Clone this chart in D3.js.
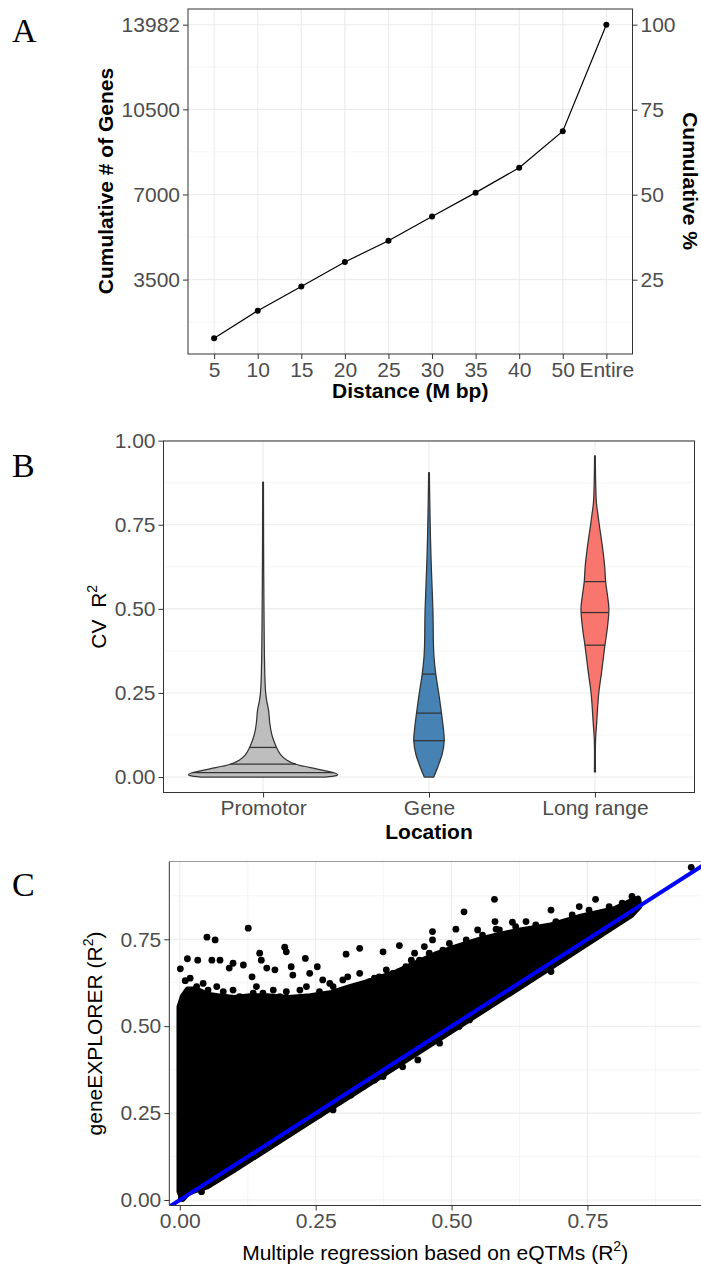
<!DOCTYPE html>
<html><head><meta charset="utf-8">
<script src="https://cdn.jsdelivr.net/npm/d3@7/dist/d3.min.js"></script>
<style>body{margin:0;background:#fff} svg{display:block} text{white-space:pre}</style>
</head><body>
<svg id="c" width="701" height="1266"></svg>
<script>
// ---------- Panel A data ----------
const distCats = ["5","10","15","20","25","30","35","40","50","Entire"];
const cumGenes = [1085, 2219, 3214, 4225, 5098, 6093, 7075, 8099, 9602, 13982];
const geneTicks = [3500, 7000, 10500, 13982];
const pctTicks = [25, 50, 75, 100];
const totalGenes = 13982;

// ---------- Panel B data ----------
const locations = ["Promotor", "Gene", "Long range"];
const violinColors = ["#BEBEBE", "#4682B4", "#F8766D"];
const cvTicks = [0, 0.25, 0.5, 0.75, 1.0];
const cvTickLabels = ["0.00", "0.25", "0.50", "0.75", "1.00"];
// relative density profiles: [CV R2, density]
const promotorDensity = [[0.000,0.83],[0.004,0.98],[0.007,1.00],[0.012,0.96],[0.018,0.84],[0.025,0.70],[0.032,0.55],[0.038,0.44],[0.050,0.32],[0.065,0.24],[0.088,0.18],[0.110,0.14],[0.128,0.115],[0.160,0.09],[0.198,0.074],[0.225,0.05],[0.248,0.036],[0.280,0.027],[0.308,0.023],[0.350,0.019],[0.400,0.016],[0.500,0.012],[0.600,0.009],[0.700,0.007],[0.800,0.006],[0.877,0.005]];
const geneDensity = [[0.000,0.063],[0.030,0.118],[0.070,0.178],[0.108,0.204],[0.149,0.190],[0.190,0.167],[0.248,0.131],[0.306,0.091],[0.357,0.067],[0.407,0.058],[0.450,0.056],[0.500,0.052],[0.560,0.042],[0.625,0.031],[0.700,0.021],[0.750,0.016],[0.800,0.012],[0.850,0.008],[0.905,0.005]];
const longRangeDensity = [[0.015,0.007],[0.109,0.008],[0.160,0.023],[0.249,0.051],[0.308,0.087],[0.392,0.134],[0.427,0.157],[0.460,0.175],[0.500,0.187],[0.540,0.168],[0.581,0.143],[0.625,0.131],[0.685,0.100],[0.750,0.058],[0.780,0.040],[0.815,0.020],[0.864,0.011],[0.955,0.005]];
const promotorQuantiles = [0.013, 0.038, 0.088];
const geneQuantiles = [0.108, 0.190, 0.306];
const longRangeQuantiles = [0.392, 0.489, 0.581];

// ---------- Panel C data ----------
const r2Ticks = [0, 0.25, 0.5, 0.75];
const r2TickLabels = ["0.00", "0.25", "0.50", "0.75"];
// outline of the dense (saturated) point cloud: [eQTM R2, geneEXPLORER R2]
const cloudOutline = [[0.000,0.025],[0.000,0.555],[0.006,0.585],[0.015,0.605],[0.030,0.605],[0.050,0.590],[0.070,0.585],[0.100,0.580],[0.130,0.585],[0.160,0.585],[0.200,0.580],[0.240,0.585],[0.280,0.595],[0.310,0.610],[0.350,0.628],[0.400,0.655],[0.435,0.680],[0.470,0.705],[0.500,0.722],[0.557,0.750],[0.618,0.772],[0.680,0.788],[0.740,0.815],[0.800,0.836],[0.830,0.858],[0.843,0.866],[0.845,0.845],[0.830,0.820],[0.800,0.790],[0.700,0.688],[0.600,0.588],[0.500,0.488],[0.400,0.388],[0.300,0.288],[0.200,0.188],[0.100,0.088],[0.050,0.040],[0.030,0.030],[0.015,0.022],[0.005,0.004]];
// sparse points outside / on the edge of the dense cloud
const sparseX = [0.001,0.014,0.033,0.050,0.065,0.059,0.074,0.091,0.126,0.098,0.117,0.133,0.147,0.150,0.160,0.175,0.193,0.196,0.205,0.208,0.231,0.239,0.253,0.263,0.276,0.306,0.579,0.523,0.465,0.508,0.331,0.374,0.404,0.331,0.765,0.683,0.735,0.580,0.612,0.637,0.548,0.582,0.465,0.450,0.432,0.426,0.380,0.404,0.358,0.941,
  0.010,0.019,0.031,0.043,0.052,0.068,0.080,0.098,0.110,0.135,0.141,0.153,0.172,0.184,0.196,0.221,0.233,0.257,0.282,0.300,0.309,0.325,0.349,0.367,0.392,0.416,0.441,0.459,0.484,0.496,0.527,0.557,0.588,0.618,0.655,0.692,0.722,0.753,0.790,0.814,0.832,
  0.315,0.337,0.358,0.374,0.410,0.438,0.713,0.683,0.514,0.533,0.478,0.003,0.040,0.071,0.135,0.166,0.257,0.282];
const sparseY = [0.665,0.694,0.690,0.756,0.748,0.690,0.690,0.667,0.782,0.681,0.676,0.642,0.710,0.690,0.667,0.662,0.727,0.714,0.671,0.647,0.695,0.652,0.671,0.633,0.623,0.707,0.865,0.829,0.772,0.779,0.724,0.714,0.732,0.652,0.865,0.834,0.844,0.801,0.799,0.801,0.777,0.779,0.748,0.729,0.710,0.690,0.662,0.657,0.638,0.957,
  0.631,0.638,0.614,0.623,0.604,0.614,0.599,0.604,0.585,0.595,0.614,0.595,0.604,0.585,0.599,0.604,0.614,0.599,0.614,0.633,0.642,0.614,0.628,0.642,0.652,0.671,0.690,0.710,0.719,0.738,0.748,0.762,0.777,0.786,0.791,0.801,0.820,0.834,0.844,0.854,0.873,
  0.302,0.326,0.345,0.355,0.383,0.403,0.705,0.657,0.499,0.518,0.451,0.005,0.024,0.062,0.125,0.155,0.245,0.259];

// ---------- drawing ----------
const svg = d3.select("#c");
const SANS = "'Liberation Sans', Arial, Helvetica, sans-serif";
const SERIF = "'Liberation Serif', 'Times New Roman', serif";
const TICK_COL = "#4D4D4D", GRID = "#EBEBEB", GRID_MINOR = "#F3F3F3", BORDER = "#333333";
const FS = 21;

function label(txt, x, y) {
  svg.append("text").attr("x", x).attr("y", y).attr("font-family", SERIF)
    .attr("font-size", 34).attr("fill", "#000").text(txt);
}
function midpoints(arr) {
  const m = [];
  for (let i = 0; i < arr.length - 1; i++) m.push((arr[i] + arr[i + 1]) / 2);
  return m;
}

// ===== Panel A =====
const A = {l: 188, r: 632.5, t: 9, b: 354};
const gA = svg.append("g");
const minA = d3.min(cumGenes), maxA = d3.max(cumGenes), RA = maxA - minA;
const xA = d3.scalePoint().domain(distCats).range([A.l, A.r]).padding(0.6);
const yA = d3.scaleLinear().domain([minA - 0.05 * RA, maxA + 0.05 * RA]).range([A.b, A.t]);
const minorA = [geneTicks[0] - (geneTicks[1] - geneTicks[0]) / 2].concat(midpoints(geneTicks));
gA.selectAll(".mny").data(minorA).join("line").attr("x1", A.l).attr("x2", A.r)
  .attr("y1", d => yA(d)).attr("y2", d => yA(d)).attr("stroke", GRID_MINOR).attr("stroke-width", 0.8);
gA.selectAll(".mjy").data(geneTicks).join("line").attr("x1", A.l).attr("x2", A.r)
  .attr("y1", d => yA(d)).attr("y2", d => yA(d)).attr("stroke", GRID).attr("stroke-width", 1.1);
gA.selectAll(".mjx").data(distCats).join("line").attr("y1", A.t).attr("y2", A.b)
  .attr("x1", d => xA(d)).attr("x2", d => xA(d)).attr("stroke", GRID).attr("stroke-width", 1.1);
const lineA = d3.line().x((d, i) => xA(distCats[i])).y(d => yA(d));
gA.append("path").datum(cumGenes).attr("d", lineA).attr("fill", "none").attr("stroke", "#000").attr("stroke-width", 1.2);
gA.selectAll(".pt").data(cumGenes).join("circle").attr("cx", (d, i) => xA(distCats[i]))
  .attr("cy", d => yA(d)).attr("r", 3).attr("fill", "#000");
gA.append("rect").attr("x", A.l).attr("y", A.t).attr("width", A.r - A.l).attr("height", A.b - A.t)
  .attr("fill", "none").attr("stroke", BORDER).attr("stroke-width", 1);
// axes
const axAL = gA.append("g").attr("transform", `translate(${A.l},0)`)
  .call(d3.axisLeft(yA).tickValues(geneTicks).tickFormat(d3.format("d")).tickSize(5).tickPadding(3));
const axAR = gA.append("g").attr("transform", `translate(${A.r},0)`)
  .call(d3.axisRight(d3.scaleLinear().domain(yA.domain().map(v => v / totalGenes * 100)).range(yA.range()))
    .tickValues(pctTicks).tickSize(5).tickPadding(3));
const axAB = gA.append("g").attr("transform", `translate(0,${A.b})`)
  .call(d3.axisBottom(xA).tickSize(5).tickPadding(3));
[axAL, axAR, axAB].forEach(ax => {
  ax.select(".domain").remove();
  ax.selectAll(".tick line").attr("stroke", BORDER);
  ax.selectAll(".tick text").attr("font-family", SANS).attr("font-size", FS).attr("fill", TICK_COL);
});
axAB.selectAll(".tick text").attr("dy", "0.71em");
svg.append("text").attr("transform", `translate(113,181) rotate(-90)`).attr("text-anchor", "middle")
  .attr("font-family", SANS).attr("font-weight", "bold").attr("font-size", FS).text("Cumulative # of Genes");
svg.append("text").attr("transform", `translate(683,181) rotate(90)`).attr("text-anchor", "middle")
  .attr("font-family", SANS).attr("font-weight", "bold").attr("font-size", FS).text("Cumulative %");
svg.append("text").attr("x", (A.l + A.r) / 2).attr("y", 398).attr("text-anchor", "middle")
  .attr("font-family", SANS).attr("font-weight", "bold").attr("font-size", FS).text("Distance (M bp)");
label("A", 12, 42);

// ===== Panel B =====
const B = {l: 163.5, r: 694.5, t: 441, b: 792.5};
const gB = svg.append("g");
const xB = d3.scalePoint().domain(locations).range([B.l, B.r]).padding(0.6);
const yB = d3.scaleLinear().domain([-0.046, 0.999]).range([B.b, B.t]);
const wB = d3.scaleLinear().domain([0, 1]).range([0, 0.45 * xB.step()]);
gB.selectAll(".mny").data(midpoints(cvTicks)).join("line").attr("x1", B.l).attr("x2", B.r)
  .attr("y1", d => yB(d)).attr("y2", d => yB(d)).attr("stroke", GRID_MINOR).attr("stroke-width", 0.8);
gB.selectAll(".mjy").data(cvTicks).join("line").attr("x1", B.l).attr("x2", B.r)
  .attr("y1", d => yB(d)).attr("y2", d => yB(d)).attr("stroke", GRID).attr("stroke-width", 1.1);
gB.selectAll(".mjx").data(locations).join("line").attr("y1", B.t).attr("y2", B.b)
  .attr("x1", d => xB(d)).attr("x2", d => xB(d)).attr("stroke", GRID).attr("stroke-width", 1.1);
const densities = [promotorDensity, geneDensity, longRangeDensity];
const quantiles = [promotorQuantiles, geneQuantiles, longRangeQuantiles];
function densAt(prof, v) {
  for (let i = 0; i < prof.length - 1; i++) {
    if (v >= prof[i][0] && v <= prof[i + 1][0]) {
      const t = (v - prof[i][0]) / (prof[i + 1][0] - prof[i][0]);
      return prof[i][1] + t * (prof[i + 1][1] - prof[i][1]);
    }
  }
  return 0;
}
locations.forEach((loc, k) => {
  const cx = xB(loc);
  const area = d3.area().curve(d3.curveCatmullRom.alpha(0.5))
    .y(d => yB(d[0])).x0(d => cx - wB(d[1])).x1(d => cx + wB(d[1]));
  gB.append("path").datum(densities[k]).attr("d", area).attr("fill", violinColors[k])
    .attr("stroke", "#333333").attr("stroke-width", 1.25).attr("stroke-linejoin", "round");
  gB.selectAll(".q" + k).data(quantiles[k]).join("line")
    .attr("x1", d => cx - wB(densAt(densities[k], d))).attr("x2", d => cx + wB(densAt(densities[k], d)))
    .attr("y1", d => yB(d)).attr("y2", d => yB(d)).attr("stroke", "#333333").attr("stroke-width", 1.25);
});
gB.append("rect").attr("x", B.l).attr("y", B.t).attr("width", B.r - B.l).attr("height", B.b - B.t)
  .attr("fill", "none").attr("stroke", BORDER).attr("stroke-width", 1);
const axBL = gB.append("g").attr("transform", `translate(${B.l},0)`)
  .call(d3.axisLeft(yB).tickValues(cvTicks).tickFormat((d, i) => cvTickLabels[i]).tickSize(5).tickPadding(3));
const axBB = gB.append("g").attr("transform", `translate(0,${B.b})`)
  .call(d3.axisBottom(xB).tickSize(5).tickPadding(3));
[axBL, axBB].forEach(ax => {
  ax.select(".domain").remove();
  ax.selectAll(".tick line").attr("stroke", BORDER);
  ax.selectAll(".tick text").attr("font-family", SANS).attr("font-size", FS).attr("fill", TICK_COL);
});
axBB.selectAll(".tick text").attr("dy", "0.71em");
const cvT = svg.append("text").attr("transform", `translate(106,${(B.t + B.b) / 2}) rotate(-90)`).attr("text-anchor", "middle")
  .attr("font-family", SANS).attr("font-size", FS).attr("fill", "#000");
cvT.append("tspan").text("CV  R");
cvT.append("tspan").attr("dy", -9).attr("font-size", 14).text("2");
svg.append("text").attr("x", (B.l + B.r) / 2).attr("y", 839).attr("text-anchor", "middle")
  .attr("font-family", SANS).attr("font-weight", "bold").attr("font-size", FS).text("Location");
label("B", 12, 477);

// ===== Panel C =====
const C = {l: 169.3, r: 701, t: 861.5, b: 1205.5};
const gC = svg.append("g");
const xC = d3.scaleLinear().domain([-0.0193, 0.959]).range([C.l, C.r]);
const yC = d3.scaleLinear().domain([-0.0158, 0.9737]).range([C.b, C.t]);
const r2Minor = midpoints(r2Ticks.concat([1.0]));
gC.selectAll(".mny").data(r2Minor).join("line").attr("x1", C.l).attr("x2", C.r)
  .attr("y1", d => yC(d)).attr("y2", d => yC(d)).attr("stroke", GRID_MINOR).attr("stroke-width", 0.8);
gC.selectAll(".mnx").data(r2Minor).join("line").attr("y1", C.t).attr("y2", C.b)
  .attr("x1", d => xC(d)).attr("x2", d => xC(d)).attr("stroke", GRID_MINOR).attr("stroke-width", 0.8);
gC.selectAll(".mjy").data(r2Ticks).join("line").attr("x1", C.l).attr("x2", C.r)
  .attr("y1", d => yC(d)).attr("y2", d => yC(d)).attr("stroke", GRID).attr("stroke-width", 1.1);
gC.selectAll(".mjx").data(r2Ticks).join("line").attr("y1", C.t).attr("y2", C.b)
  .attr("x1", d => xC(d)).attr("x2", d => xC(d)).attr("stroke", GRID).attr("stroke-width", 1.1);
const clip = svg.append("clipPath").attr("id", "clipC").append("rect")
  .attr("x", C.l).attr("y", C.t).attr("width", C.r - C.l).attr("height", C.b - C.t);
const plotC = gC.append("g").attr("clip-path", "url(#clipC)");
plotC.append("path").datum(cloudOutline)
  .attr("d", d3.line().x(d => xC(d[0])).y(d => yC(d[1])).curve(d3.curveLinearClosed))
  .attr("fill", "#000").attr("stroke", "#000").attr("stroke-width", 6.6).attr("stroke-linejoin", "round");
plotC.selectAll(".sp").data(sparseX).join("circle").attr("cx", d => xC(d))
  .attr("cy", (d, i) => yC(sparseY[i])).attr("r", 3.4).attr("fill", "#000");
plotC.append("line").attr("x1", xC(-0.05)).attr("y1", yC(-0.05)).attr("x2", xC(1.0)).attr("y2", yC(1.0))
  .attr("stroke", "#0000FF").attr("stroke-width", 4);
gC.append("line").attr("x1", C.l).attr("x2", C.r).attr("y1", C.t).attr("y2", C.t).attr("stroke", "#999").attr("stroke-width", 1);
gC.append("line").attr("x1", C.l).attr("x2", C.l).attr("y1", C.t).attr("y2", C.b).attr("stroke", BORDER).attr("stroke-width", 1);
gC.append("line").attr("x1", C.l).attr("x2", C.r).attr("y1", C.b).attr("y2", C.b).attr("stroke", BORDER).attr("stroke-width", 1);
const axCL = gC.append("g").attr("transform", `translate(${C.l},0)`)
  .call(d3.axisLeft(yC).tickValues(r2Ticks).tickFormat((d, i) => r2TickLabels[i]).tickSize(5).tickPadding(3));
const axCB = gC.append("g").attr("transform", `translate(0,${C.b})`)
  .call(d3.axisBottom(xC).tickValues(r2Ticks).tickFormat((d, i) => r2TickLabels[i]).tickSize(5).tickPadding(3));
[axCL, axCB].forEach(ax => {
  ax.select(".domain").remove();
  ax.selectAll(".tick line").attr("stroke", BORDER);
  ax.selectAll(".tick text").attr("font-family", SANS).attr("font-size", FS).attr("fill", TICK_COL);
});
axCB.selectAll(".tick text").attr("dy", "0.71em");
const gT = svg.append("text").attr("transform", `translate(102,${(C.t + C.b) / 2}) rotate(-90)`).attr("text-anchor", "middle")
  .attr("font-family", SANS).attr("font-size", FS).attr("fill", "#000");
gT.append("tspan").text("geneEXPLORER (R");
gT.append("tspan").attr("dy", -9).attr("font-size", 14).text("2");
gT.append("tspan").attr("dy", 9).text(")");
const xT = svg.append("text").attr("x", (C.l + C.r) / 2).attr("y", 1260).attr("text-anchor", "middle")
  .attr("font-family", SANS).attr("font-size", FS).attr("fill", "#000");
xT.append("tspan").text("Multiple regression based on eQTMs (R");
xT.append("tspan").attr("dy", -9).attr("font-size", 14).text("2");
xT.append("tspan").attr("dy", 9).text(")");
label("C", 12, 896);
</script>
</body></html>
